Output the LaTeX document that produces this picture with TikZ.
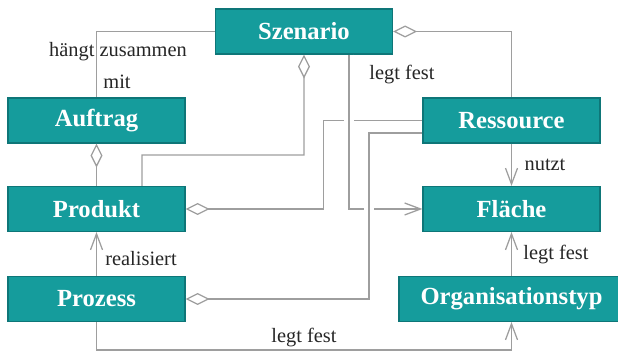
\documentclass[tikz,border=0pt]{standalone}
\usepackage{fontspec}
\setmainfont{Liberation Serif}
\usetikzlibrary{arrows.meta}
\definecolor{boxteal}{RGB}{21,156,156}
\definecolor{boxedge}{RGB}{14,118,120}
\definecolor{linegray}{RGB}{158,158,158}
\tikzset{
  entity/.style={draw=boxedge, line width=0.8pt, fill=boxteal, text=white, font=\fontsize{17.5}{20}\selectfont\bfseries, minimum width=4.425cm, minimum height=1.125cm, inner sep=0pt},
  link/.style={draw=linegray, line width=0.9pt},
  agg/.style={link, {Diamond[open, length=6mm, width=3mm]}-},
  dep/.style={link, -{Straight Barb[length=4mm, width=3mm]}},
  bridge/.style={preaction={draw=white, line width=7pt, -}},
  lbl/.style={font=\fontsize{14.5}{17}\selectfont, text=black!85, inner sep=1pt}
}

\begin{document}
\begin{tikzpicture}[x=0.025cm, y=-0.025cm]
  \useasboundingbox (0,0) rectangle (618,352);
  % classes
  \node[entity] (szen) at (304,31.5) {Szenario};
  \node[entity] (auft) at (96.5,120.5) {Auftrag};
  \node[entity] (prod) at (96.5,209) {Produkt};
  \node[entity] (proz) at (96.5,299) {Prozess};
  \node[entity] (ress) at (511.5,120.5) {Ressource};
  \node[entity] (flae) at (511.5,209) {Fläche};
  \node[entity, minimum width=5.625cm] (orga) at (511.5,299) {Organisationstyp};

  % associations
  \draw[link] (szen.west) -| (auft.north);
  \draw[agg] (auft.south) -- (prod.north);
  \draw[agg] (szen.south) |- (142,155) -- ([xshift=1.1375cm]prod.north);
  \draw[agg] (szen.east) -| (ress.north);
  \draw[agg] (prod.east) -- (323.5,209) |- (ress.west);
  \draw[dep, bridge] ([xshift=1.125cm]szen.south) |- (flae.west);
  \draw[agg, bridge] (proz.east) -- (369,299) |- ([yshift=-0.3125cm]ress.west);
  \draw[dep] (ress.south) -- (flae.north);
  \draw[dep] (orga.north) -- (flae.south);
  \draw[dep] (proz.north) -- (prod.south);
  \draw[dep] (proz.south) -- (96.5,350) -| (orga.south);

  % labels
  \node[lbl] (l_haengt) at (118,52) {hängt zusammen};
  \node[lbl] (l_mit) at (117,82) {mit};
  \node[lbl] (l_szfl) at (402,75) {legt fest};
  \node[lbl] (l_nutzt) at (545,165) {nutzt};
  \node[lbl] (l_orfl) at (556,255) {legt fest};
  \node[lbl] (l_real) at (141,259) {realisiert};
  \node[lbl] (l_przor) at (304,338) {legt fest};
\end{tikzpicture}
\end{document}
